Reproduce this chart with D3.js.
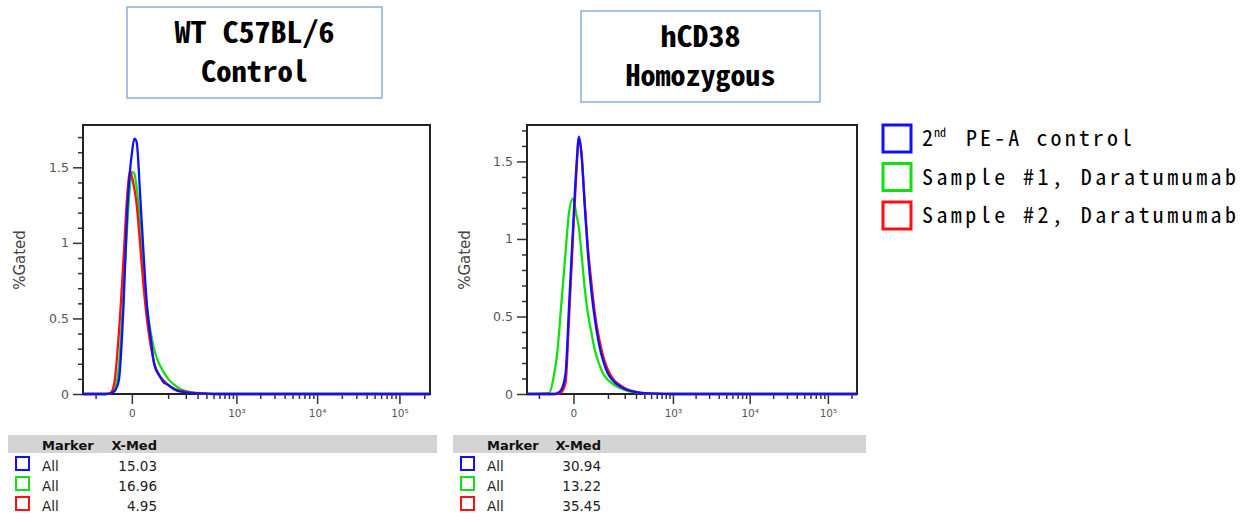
<!DOCTYPE html>
<html>
<head>
<meta charset="utf-8">
<script src="https://cdn.jsdelivr.net/npm/d3@7"></script>
<style>
  body { margin: 0; background: #fff; }
  svg { display: block; }
</style>
</head>
<body>
<div id="chart"></div>
<script>
// ---- data ----
var seriesNames = ["2nd PE-A control", "Sample #1, Daratumumab", "Sample #2, Daratumumab"];
var panelTitles = [["WT C57BL/6", "Control"], ["hCD38", "Homozygous"]];

// fluorescence (PE-A) values where the histograms were read, left panel
var xLeft = [-166, -60, -45, -35, -25, -15, -8, -3, 0, 4, 8, 15, 22, 30, 40, 50, 65, 80, 100, 130, 170, 220, 300, 400, 600, 1000, 235000];
var blueLeft  = [0, 0, .005, .02, .09, .58, 1.2, 1.48, 1.59, 1.69, 1.67, 1.31, .93, .58, .36, .19, .125, .08, .06, .03, .015, .008, .004, .002, 0, 0, 0];
var greenLeft = [0, 0, .005, .03, .18, .67, 1.11, 1.38, 1.47, 1.46, 1.37, 1.11, .80, .58, .40, .29, .20, .15, .10, .06, .03, .015, .007, .003, 0, 0, 0];
var redLeft   = [0, 0, .01, .09, .40, .89, 1.31, 1.47, 1.44, 1.36, 1.26, .98, .71, .49, .31, .20, .125, .093, .06, .035, .02, .01, .005, .002, 0, 0, 0];

// right panel
var xRight = [-166, -60, -45, -35, -25, -15, -8, -1, 5, 10, 15, 22, 30, 40, 50, 65, 80, 100, 130, 170, 220, 300, 400, 600, 1000, 235000];
var blueRight  = [0, 0, 0, .005, .025, .13, .56, 1.05, 1.46, 1.66, 1.55, 1.23, .91, .65, .48, .31, .21, .13, .08, .047, .026, .012, .005, .002, 0, 0];
var greenRight = [0, .005, .11, .26, .56, .91, 1.17, 1.26, 1.16, 1.07, .91, .69, .52, .39, .28, .19, .13, .09, .06, .037, .02, .01, .004, .001, 0, 0];
var redRight   = [0, 0, 0, 0, .01, .07, .48, 1.0, 1.42, 1.65, 1.56, 1.25, .95, .71, .52, .35, .24, .155, .09, .055, .03, .014, .006, .002, 0, 0];

var medLeft = [15.03, 16.96, 4.95];
var medRight = [30.94, 13.22, 35.45];

var yMajor = [0, 0.5, 1, 1.5];
var yMinor = [0.1, 0.2, 0.3, 0.4, 0.6, 0.7, 0.8, 0.9, 1.1, 1.2, 1.3, 1.4, 1.6, 1.7];
var xMajor = [0, 1e3, 1e4, 1e5];
var xMajorLabels = ["0", "10\u00B3", "10\u2074", "10\u2075"];
var xMinor = [-100, 100, 200, 300, 400, 500, 600, 700, 800, 900,
    2e3, 3e3, 4e3, 5e3, 6e3, 7e3, 8e3, 9e3,
    2e4, 3e4, 4e4, 5e4, 6e4, 7e4, 8e4, 9e4, 2e5];
var xDomain = [-166, 235000];

// ---- styles / layout ----
var colors = ["#1010ff", "#10e010", "#ff1010"];
var drawOrder = [1, 2, 0]; // green, red, blue on top
var width = 1250, height = 520;
var monoFont = "'Noto Sans Mono CJK SC', 'DejaVu Sans Mono', monospace";
var uiFont = "'DejaVu Sans', Verdana, sans-serif";

var panels = [
    { x0: 83, x1: 430, ymax: 1.78, xs: xLeft, ys: [blueLeft, greenLeft, redLeft], med: medLeft,
      box: [127, 7, 255, 91], titleW: [160, 107], labelX: 20,
      table: { x0: 8, x1: 437, sq: 16, marker: 42, medR: 157 } },
    { x0: 527, x1: 857, ymax: 1.735, xs: xRight, ys: [blueRight, greenRight, redRight], med: medRight,
      box: [581, 11, 239, 91], titleW: [80, 150], labelX: 465,
      table: { x0: 453, x1: 866, sq: 461, marker: 487, medR: 601 } }
];
var plotTop = 125, plotBottom = 394;

var svg = d3.select("#chart").append("svg")
    .attr("width", width)
    .attr("height", height)
    .style("background", "#fff");

panels.forEach(function(p, pi) {
    var x = d3.scaleSymlog().constant(57).domain(xDomain).range([p.x0, p.x1]);
    var y = d3.scaleLinear().domain([0, p.ymax]).range([plotBottom, plotTop]);
    var g = svg.append("g").attr("class", "panel-" + pi);

    // title box
    g.append("rect")
        .attr("x", p.box[0]).attr("y", p.box[1])
        .attr("width", p.box[2]).attr("height", p.box[3])
        .attr("fill", "#fff").attr("stroke", "#86aee0").attr("stroke-width", 1.5);
    panelTitles[pi].forEach(function(t, li) {
        g.append("text")
            .attr("x", p.box[0] + p.box[2] / 2)
            .attr("y", p.box[1] + 36 + li * 39)
            .attr("text-anchor", "middle")
            .attr("font-family", monoFont)
            .attr("font-weight", "bold")
            .attr("font-size", 29)
            .attr("textLength", p.titleW[li])
            .attr("lengthAdjust", "spacingAndGlyphs")
            .attr("fill", "#000")
            .text(t);
    });

    // y axis
    var yAx = g.append("g").attr("transform", "translate(" + p.x0 + ",0)")
        .call(d3.axisLeft(y).tickValues(yMajor).tickSize(10).tickPadding(4)
            .tickFormat(function(d) { return d === 0 ? "0" : d3.format("")(d); }));
    yAx.select(".domain").remove();
    yAx.selectAll("line").attr("stroke", "#333").attr("stroke-width", 1.5);
    yAx.selectAll("text").attr("font-family", uiFont).attr("font-size", 12.5).attr("fill", "#555");
    var yMin = g.append("g").attr("transform", "translate(" + p.x0 + ",0)")
        .call(d3.axisLeft(y).tickValues(yMinor.filter(function(v) { return v < p.ymax; }))
            .tickSize(5).tickFormat(""));
    yMin.select(".domain").remove();
    yMin.selectAll("line").attr("stroke", "#333").attr("stroke-width", 1.5);

    // x axis
    var xAx = g.append("g").attr("transform", "translate(0," + plotBottom + ")")
        .call(d3.axisBottom(x).tickValues(xMajor).tickSize(10).tickPadding(6)
            .tickFormat(function(d, i) { return xMajorLabels[i]; }));
    xAx.select(".domain").remove();
    xAx.selectAll("line").attr("stroke", "#333").attr("stroke-width", 1.5);
    xAx.selectAll("text").attr("font-family", uiFont).attr("font-size", 10.5).attr("fill", "#555");
    var xMin = g.append("g").attr("transform", "translate(0," + plotBottom + ")")
        .call(d3.axisBottom(x).tickValues(xMinor).tickSize(5).tickFormat(""));
    xMin.select(".domain").remove();
    xMin.selectAll("line").attr("stroke", "#333").attr("stroke-width", 1.5);

    // frame
    g.append("rect")
        .attr("x", p.x0).attr("y", plotTop)
        .attr("width", p.x1 - p.x0).attr("height", plotBottom - plotTop)
        .attr("fill", "none").attr("stroke", "#222").attr("stroke-width", 2);

    // y label
    g.append("text")
        .attr("transform", "translate(" + p.labelX + "," + 260 + ") rotate(-90)")
        .attr("text-anchor", "middle")
        .attr("dy", "0.35em")
        .attr("font-family", uiFont)
        .attr("font-size", 15)
        .attr("fill", "#444")
        .text("%Gated");

    // histograms
    var clipId = "clip" + pi;
    g.append("clipPath").attr("id", clipId).append("rect")
        .attr("x", p.x0).attr("y", plotTop - 2)
        .attr("width", p.x1 - p.x0).attr("height", plotBottom - plotTop + 4);
    var line = d3.line()
        .x(function(d) { return x(d[0]); })
        .y(function(d) { return y(d[1]); })
        .curve(d3.curveMonotoneX);
    drawOrder.forEach(function(si) {
        var pts = p.xs.map(function(v, k) { return [v, p.ys[si][k]]; });
        g.append("path")
            .datum(pts)
            .attr("clip-path", "url(#" + clipId + ")")
            .attr("d", line)
            .attr("fill", "none")
            .attr("stroke", colors[si])
            .attr("stroke-width", 2.3)
            .attr("stroke-linejoin", "round");
    });

    // stats table
    var t = p.table;
    g.append("rect")
        .attr("x", t.x0).attr("y", 435)
        .attr("width", t.x1 - t.x0).attr("height", 18)
        .attr("fill", "#d4d4d4");
    g.append("text").attr("x", t.marker).attr("y", 450)
        .attr("font-family", uiFont).attr("font-size", 13).attr("font-weight", "bold")
        .attr("fill", "#111").text("Marker");
    g.append("text").attr("x", t.medR).attr("y", 450).attr("text-anchor", "end")
        .attr("font-family", uiFont).attr("font-size", 13).attr("font-weight", "bold")
        .attr("fill", "#111").text("X-Med");
    p.med.forEach(function(m, i) {
        var ry = 457 + i * 20;
        g.append("rect")
            .attr("x", t.sq).attr("y", ry)
            .attr("width", 13).attr("height", 13)
            .attr("fill", "#fff").attr("stroke", colors[i]).attr("stroke-width", 2);
        g.append("text").attr("x", t.marker).attr("y", ry + 14)
            .attr("font-family", uiFont).attr("font-size", 13.5).attr("fill", "#222").text("All");
        g.append("text").attr("x", t.medR).attr("y", ry + 14).attr("text-anchor", "end")
            .attr("font-family", uiFont).attr("font-size", 13.5).attr("fill", "#222")
            .text(d3.format(".2f")(m));
    });
});

// legend
var legend = svg.append("g").attr("class", "legend");
seriesNames.forEach(function(name, i) {
    var cy = 138.5 + i * 38.5;
    legend.append("rect")
        .attr("x", 883).attr("y", cy - 13.5)
        .attr("width", 28).attr("height", 27)
        .attr("fill", "#fff").attr("stroke", colors[i]).attr("stroke-width", 3);
    var txt = legend.append("text")
        .attr("x", 922).attr("y", cy + 7.5)
        .attr("font-family", monoFont)
        .attr("font-size", 22)
        .attr("fill", "#000");
    if (i === 0) {
        txt.append("tspan").text("2");
        txt.append("tspan").attr("font-size", 12).attr("dy", -9).attr("dx", 1).text("nd");
        txt.append("tspan").attr("x", 966).attr("dy", 9)
            .attr("textLength", 166).attr("lengthAdjust", "spacing")
            .text(name.slice(4));
    } else {
        txt.attr("textLength", 314).attr("lengthAdjust", "spacing").text(name);
    }
});
</script>
</body>
</html>
